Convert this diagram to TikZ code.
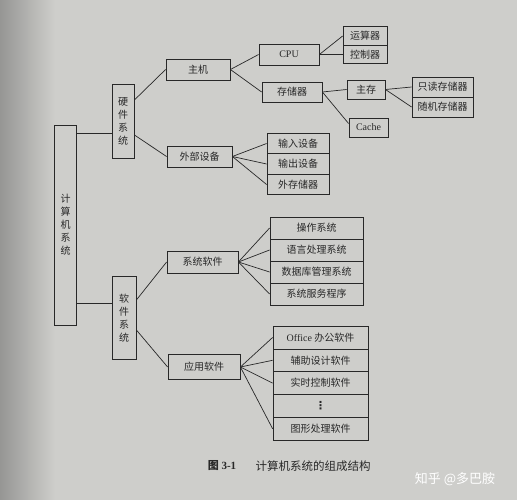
\documentclass[tikz,border=0pt]{standalone}
\usepackage{fontspec}
\setmainfont{Liberation Serif}
\newfontfamily\cjk{Noto Sans CJK SC}
\newfontfamily\dejavu{DejaVu Sans}
\usetikzlibrary{calc}
\definecolor{paper}{RGB}{206,206,203}
\definecolor{papershade}{RGB}{150,150,148}
\definecolor{ink}{RGB}{40,40,40}
\tikzset{
  box/.style={draw=ink, line width=0.8pt, inner sep=0pt, text=ink,
    font=\cjk\fontsize{10}{11}\selectfont, fill=paper},
  link/.style={draw=ink, line width=0.7pt},
}
\begin{document}
\begin{tikzpicture}[x=1pt,y=-1pt]
\useasboundingbox (0,0) rectangle (517,500);
\fill[paper] (0,0) rectangle (517,500);
\shade[left color=papershade, right color=paper] (0,0) rectangle (55,500);
% root and level 1
\node[box, minimum width=22pt, minimum height=200pt, align=center] (root) at (65.5,225)
  {计\\[2pt]算\\[2pt]机\\[2pt]系\\[2pt]统};
\node[box, minimum width=22pt, minimum height=74pt, align=center] (hw) at (123,121)
  {硬\\[2pt]件\\[2pt]系\\[2pt]统};
\node[box, minimum width=24pt, minimum height=83pt, align=center] (sw) at (124,318)
  {软\\[2pt]件\\[2pt]系\\[2pt]统};
% hardware
\node[box, minimum width=64pt, minimum height=21pt] (zhuji) at (198,69.5) {主机};
\node[box, minimum width=65pt, minimum height=21pt] (waibu) at (199.5,156.5) {外部设备};
\node[box, minimum width=60pt, minimum height=21pt] (cpu) at (289,54.5) {\rmfamily CPU};
\node[box, minimum width=60pt, minimum height=20pt] (cunchu) at (292,92) {存储器};
\node[box, minimum width=44pt, minimum height=18.5pt] (yunsuan) at (365,36) {运算器};
\node[box, minimum width=44pt, minimum height=18.5pt] (kongzhi) at (365,54.5) {控制器};
\node[box, minimum width=38pt, minimum height=19pt] (zhucun) at (366,89.5) {主存};
\node[box, minimum width=39pt, minimum height=19pt] (cache) at (368.5,127.5) {\rmfamily Cache};
\node[box, minimum width=61pt, minimum height=20pt] (zhidu) at (442.5,87) {只读存储器};
\node[box, minimum width=61pt, minimum height=20pt] (suiji) at (442.5,107) {随机存储器};
\node[box, minimum width=62pt, minimum height=20.5pt] (input) at (298,143.5) {输入设备};
\node[box, minimum width=62pt, minimum height=20.5pt] (output) at (298,164) {输出设备};
\node[box, minimum width=62pt, minimum height=20.5pt] (waicun) at (298,184.5) {外存储器};
% software
\node[box, minimum width=71pt, minimum height=22pt] (xitong) at (202.5,262) {系统软件};
\node[box, minimum width=72pt, minimum height=25pt] (yingyong) at (204,367) {应用软件};
\node[box, minimum width=93pt, minimum height=22pt] (s1) at (316.5,228) {操作系统};
\node[box, minimum width=93pt, minimum height=22pt] (s2) at (316.5,250) {语言处理系统};
\node[box, minimum width=93pt, minimum height=22pt] (s3) at (316.5,272) {数据库管理系统};
\node[box, minimum width=93pt, minimum height=22pt] (s4) at (316.5,294) {系统服务程序};
\node[box, minimum width=95pt, minimum height=22.8pt] (a1) at (320.5,337.5) {{\rmfamily Office} 办公软件};
\node[box, minimum width=95pt, minimum height=22.8pt] (a2) at (320.5,360.3) {辅助设计软件};
\node[box, minimum width=95pt, minimum height=22.8pt] (a3) at (320.5,383.1) {实时控制软件};
\node[box, minimum width=95pt, minimum height=22.8pt, font=\dejavu\bfseries\fontsize{11}{11}\selectfont] (a4) at (320.5,405.9) {⋮};
\node[box, minimum width=95pt, minimum height=22.8pt] (a5) at (320.5,428.7) {图形处理软件};
% anchor points on the sides of boxes
\coordinate (hwin) at ([yshift=-12pt]hw.west);
\coordinate (swin) at ([yshift=15pt]sw.west);
\coordinate (hwup) at ([yshift=21pt]hw.east);
\coordinate (hwdn) at ([yshift=-14pt]hw.east);
\coordinate (swup) at ([yshift=18pt]sw.east);
\coordinate (swdn) at ([yshift=-12pt]sw.east);
\coordinate (cachein) at ([yshift=4pt]cache.west);
% connectors
\draw[link] (root.east |- hwin) -- (hwin);
\draw[link] (root.east |- swin) -- (swin);
\draw[link] (hwup) -- (zhuji.west);
\draw[link] (hwdn) -- (waibu.west);
\draw[link] (swup) -- (xitong.west);
\draw[link] (swdn) -- (yingyong.west);
\draw[link] (zhuji.east) -- (cpu.west);
\draw[link] (zhuji.east) -- (cunchu.west);
\draw[link] (cpu.east) -- (yunsuan.west);
\draw[link] (cpu.east) -- (kongzhi.west);
\draw[link] (cunchu.east) -- (zhucun.west);
\draw[link] (cunchu.east) -- (cachein);
\draw[link] (zhucun.east) -- (zhidu.west);
\draw[link] (zhucun.east) -- (suiji.west);
\foreach \t in {input,output,waicun} \draw[link] (waibu.east) -- (\t.west);
\foreach \t in {s1,s2,s3,s4} \draw[link] (xitong.east) -- (\t.west);
\foreach \t in {a1,a2,a3,a5} \draw[link] (yingyong.east) -- (\t.west);
% caption
\node[text=ink, font=\rmfamily\bfseries\fontsize{11}{12}\selectfont] (fig) at (222,466) {\cjk 图\rmfamily\ 3-1};
\node[text=ink, font=\cjk\fontsize{11.5}{12}\selectfont, anchor=west] (cap) at (252,466) {计算机系统的组成结构};
\node[text=white, font=\cjk\fontsize{13}{14}\selectfont] (wm) at (455,479) {知乎 @多巴胺};
\end{tikzpicture}
\end{document}
